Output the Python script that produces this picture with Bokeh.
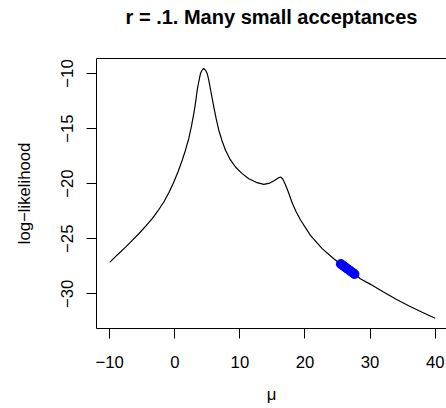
from bokeh.plotting import figure
from bokeh.models import Range1d, FixedTicker, LinearAxis
from bokeh.embed import file_html
from bokeh.resources import INLINE

# log-likelihood curve
mu = [-10.0, -8.8, -7.57, -6.5, -5.53, -4.5, -3.47, -2.6, -1.69, -0.9, -0.15, 0.5, 1.14,
      1.65, 2.15, 2.55, 2.92, 3.2, 3.44, 3.7, 3.95, 4.1, 4.3, 4.45, 4.75, 5.0, 5.22, 5.5,
      5.99, 6.35, 6.76, 7.25, 7.79, 8.5, 9.32, 10.3, 11.37, 12.5, 13.67, 14.6, 15.3, 16.0,
      16.3, 16.6, 17.0, 17.5, 18.0, 18.6, 19.31, 20.84, 22.64, 24.42, 25.45, 26.6, 27.76,
      28.5, 30.0, 32.0, 34.0, 36.0, 38.0, 40.0]
loglik = [-27.15, -26.45, -25.76, -25.13, -24.55, -23.88, -23.18, -22.48, -21.67, -20.8,
          -19.85, -18.92, -17.88, -16.93, -15.9, -14.8, -13.64, -12.6, -11.52, -10.7, -10.0,
          -9.8, -9.62, -9.55, -9.72, -10.05, -10.6, -11.5, -13.04, -14.1, -15.15, -16.1,
          -16.97, -17.8, -18.49, -19.07, -19.55, -19.88, -20.06, -19.95, -19.72, -19.45,
          -19.4, -19.6, -20.1, -20.85, -21.7, -22.5, -23.3, -24.7, -25.9, -26.82, -27.27,
          -27.78, -28.27, -28.64, -29.12, -29.82, -30.5, -31.1, -31.68, -32.22]

# accepted proposals (blue)
acc_mu = [25.5, 25.8, 26.1, 26.4, 26.7, 27.0, 27.3, 27.6]
acc_ll = [-27.29, -27.42, -27.55, -27.68, -27.81, -27.94, -28.07, -28.2]

x_ticks = [-10, 0, 10, 20, 30, 40]
y_ticks = [-30, -25, -20, -15, -10]

TITLE = "r = .1. Many small acceptances"
FONT = "Liberation Sans"

p = figure(width=446, height=408, output_backend="svg", toolbar_location=None,
           x_range=Range1d(-12.03, 41.74), y_range=Range1d(-33.15, -8.64),
           min_border_left=96, min_border_right=0, min_border_top=58, min_border_bottom=80)
p.grid.visible = False
p.background_fill_color = "white"
p.border_fill_color = "white"
p.outline_line_color = None

for ax in (p.xaxis[0], p.yaxis[0]):
    ax.axis_line_color = "black"
    ax.axis_line_width = 1
    ax.major_tick_line_color = "black"
    ax.major_tick_out = 10
    ax.major_tick_in = 0
    ax.minor_tick_line_color = None
    ax.major_label_text_font = FONT
    ax.major_label_text_font_size = "16.7px"
    ax.major_label_text_color = "black"
    ax.axis_label_text_font = FONT
    ax.axis_label_text_font_size = "16.7px"
    ax.axis_label_text_font_style = "normal"
    ax.axis_label_text_color = "black"

p.xaxis.ticker = FixedTicker(ticks=x_ticks)
p.yaxis.ticker = FixedTicker(ticks=y_ticks)
p.xaxis.major_label_overrides = {t: str(t).replace("-", "\u2212") for t in x_ticks}
p.yaxis.major_label_overrides = {t: str(t).replace("-", "\u2212") for t in y_ticks}
p.xaxis.axis_label = "\u03bc"
p.yaxis.axis_label = "log\u2212likelihood"
p.xaxis.major_label_standoff = 17
p.xaxis.axis_label_standoff = 14
p.xaxis.major_label_text_line_height = 1.0
p.xaxis.axis_label_text_line_height = 1.0
p.yaxis.major_label_orientation = "vertical"
p.yaxis.major_label_standoff = 13
p.yaxis.axis_label_standoff = 25

# top edge of the box, carrying the main title
top = LinearAxis(ticker=FixedTicker(ticks=[]), axis_line_color="black",
                 major_tick_out=0, major_tick_in=0, minor_tick_line_color=None,
                 major_label_text_font_size="0px", major_label_standoff=0,
                 axis_label=TITLE, axis_label_text_font=FONT,
                 axis_label_text_font_size="20px", axis_label_text_font_style="bold",
                 axis_label_text_color="black", axis_label_standoff=31)
p.add_layout(top, "above")

p.line(mu, loglik, line_color="black", line_width=1.2)
p.scatter(acc_mu, acc_ll, size=9, fill_color="#0000FF", line_color="#0000FF")

open("out.html", "w").write(file_html(p, INLINE))
